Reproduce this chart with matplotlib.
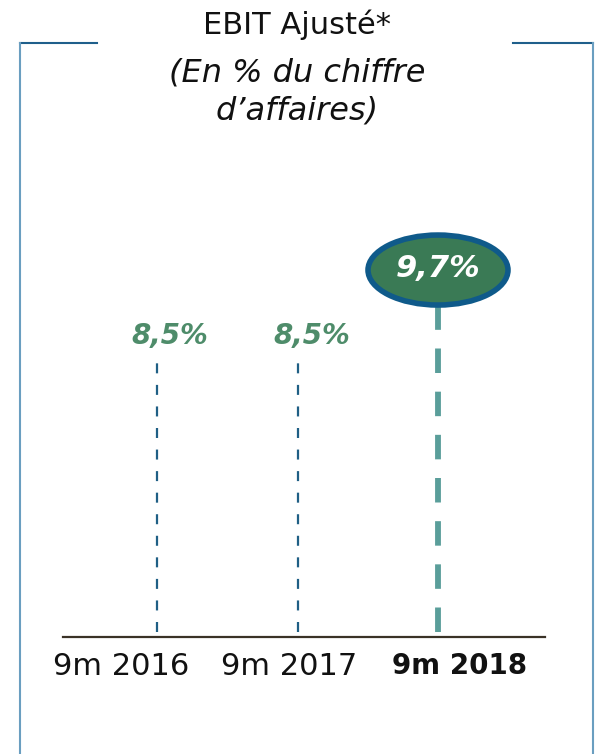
import matplotlib
matplotlib.use("Agg")
import matplotlib.pyplot as plt
from matplotlib.patches import Ellipse
from matplotlib.lines import Line2D
from matplotlib.transforms import ScaledTranslation

categories = ["9m 2016", "9m 2017", "9m 2018"]
values = [8.5, 8.5, 9.7]
value_labels = ["8,5%", "8,5%", "9,7%"]
title_lines = ["EBIT Ajusté*", "(En % du chiffre", "d\u2019affaires)"]

plt.rcParams['font.family'] = ['DejaVu Sans']

W, H = 596, 754
fig = plt.figure(figsize=(W / 100, H / 100), dpi=100)

def px(x, y):
    return x / W, 1 - y / H

for (x0, y0, x1, y1), c in [((20, 43, 97, 43), "#1f5f8b"),
                            ((20, 43, 20, 754), "#6a9ec0"),
                            ((513, 43, 593, 43), "#1f5f8b"),
                            ((593, 43, 593, 754), "#6a9ec0")]:
    a, b = px(x0, y0)
    c2, d = px(x1, y1)
    fig.add_artist(Line2D([a, c2], [b, d], color=c, lw=1.5, transform=fig.transFigure))

ty = [25, 73, 111]
tsize = [22, 23, 23]
for i, t in enumerate(title_lines):
    fig.text(297 / W, 1 - ty[i] / H, t, ha="center", va="center",
             fontsize=tsize[i], style="normal" if i == 0 else "italic", color="#111111")

base_px = 637
ppu_y = 33.06
ax_left, ax_right = 63, 545
ylim_top = 12.0
ax = fig.add_axes([ax_left / W, (H - base_px) / H, (ax_right - ax_left) / W,
                   ylim_top * ppu_y / H])
ppu_x = 140.5
x0_px = 157
ax.set_xlim((ax_left - x0_px) / ppu_x, (ax_right - x0_px) / ppu_x)
ax.set_ylim(0, ylim_top)
ax.patch.set_alpha(0)
for s in ["top", "right", "left"]:
    ax.spines[s].set_visible(False)
ax.spines["bottom"].set_color("#3a3226")
ax.spines["bottom"].set_linewidth(1.6)
ax.set_yticks([])

xs = list(range(len(categories)))
ax.set_xticks(xs)
ax.set_xticklabels(categories)
ax.tick_params(axis="x", length=0, pad=11, labelsize=22, labelcolor="#111111")
tick_offsets = [-36, -8, 22]
for i, lab in enumerate(ax.get_xticklabels()):
    lab.set_transform(lab.get_transform() + ScaledTranslation(tick_offsets[i] / 100, 0, fig.dpi_scale_trans))
    if i == 2:
        lab.set_fontweight("bold")
        lab.set_fontsize(20)

for i, (x, v) in enumerate(zip(xs, values)):
    if i < 2:
        ax.plot([x, x], [0.15, v], color="#1f5f85", lw=1.6, dashes=(4.5, 5.2),
                dash_capstyle="butt")
    else:
        ax.plot([x, x], [0.15, v + 0.5], color="#5a9e9a", lw=4.2, dashes=(4.2, 3.2),
                dash_capstyle="butt")

label_offsets = [13, 14]
for i in range(2):
    ax.annotate(value_labels[i], (xs[i], values[i]), xytext=(label_offsets[i] * 0.72, 4),
                textcoords="offset points", ha="center", va="bottom",
                fontsize=20, fontweight="bold", style="italic", color="#4e8c6a")

ell_dy = 1.4
e = Ellipse((xs[2], values[2] + ell_dy), width=140 / ppu_x, height=70 / ppu_y,
            facecolor="#3a7a55", edgecolor="#0f5a8a", lw=4, zorder=5, clip_on=False)
ax.add_patch(e)
ax.annotate(value_labels[2], (xs[2], values[2] + ell_dy), xytext=(0, 1),
            textcoords="offset points", ha="center", va="center",
            fontsize=22, fontweight="bold", style="italic", color="white", zorder=6)

fig.savefig("out.png", dpi=100)
